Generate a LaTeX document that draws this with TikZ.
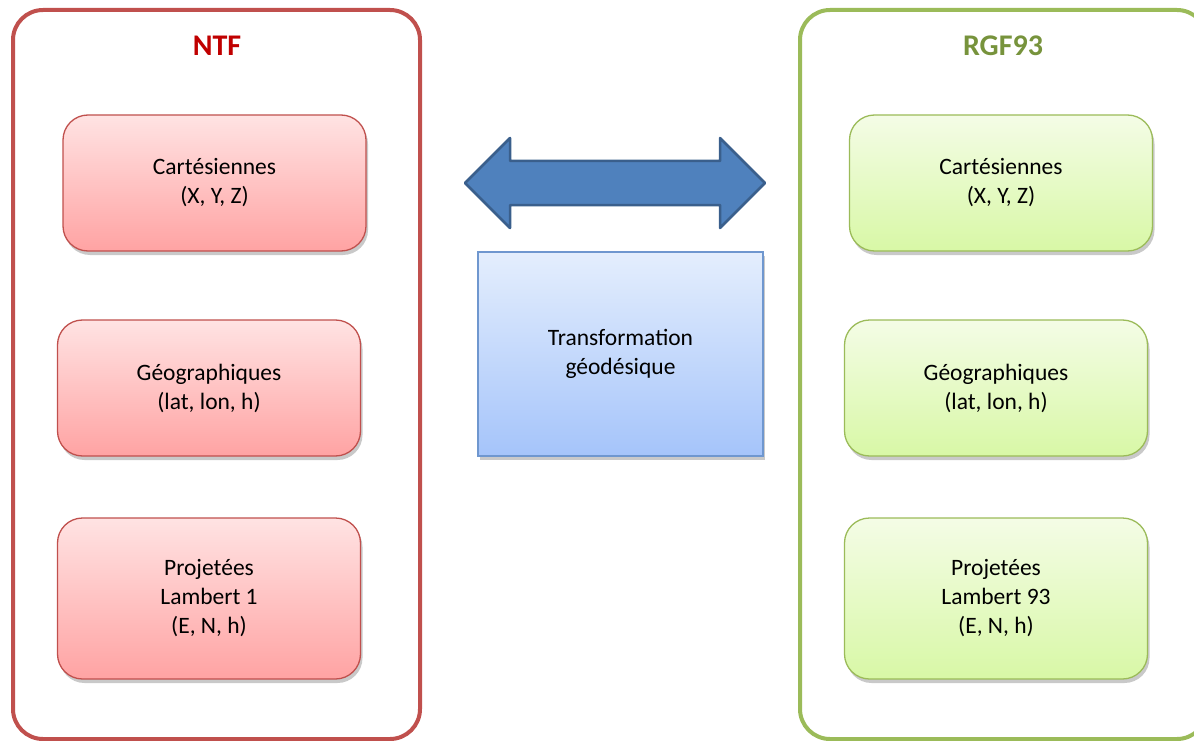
\documentclass[tikz,border=0pt]{standalone}
\usepackage{fontspec}
\setmainfont{Carlito}
\usetikzlibrary{shadows}
\definecolor{ntfred}{HTML}{C0504D}
\definecolor{ntftitle}{HTML}{C00000}
\definecolor{rgfgreen}{HTML}{9BBB59}
\definecolor{rgftitle}{HTML}{77933C}
\definecolor{redtop}{HTML}{FFE3E3}
\definecolor{redbot}{HTML}{FFA3A3}
\definecolor{greentop}{HTML}{F4FCE6}
\definecolor{greenbot}{HTML}{D8F8A6}
\definecolor{bluetop}{HTML}{E4EEFD}
\definecolor{bluebot}{HTML}{A5C4FA}
\definecolor{blueborder}{HTML}{6F97CF}
\definecolor{arrowfill}{HTML}{4F81BD}
\definecolor{arrowdraw}{HTML}{3A5F8C}
\tikzset{
  container/.style={draw, line width=4pt, rounded corners=30pt, inner sep=0pt,
    minimum width=407pt, minimum height=729pt},
  shadowed/.style={drop shadow={shadow xshift=2pt, shadow yshift=-4pt, opacity=0.3, fill=black!70}},
  bodytext/.style={font=\fontsize{23.5}{29}\selectfont, align=center, inner sep=0pt,
    execute at begin node={\vspace*{-8pt}}},
  redbox/.style={draw=ntfred, line width=1.3pt, rounded corners=25pt, bodytext,
    top color=redtop, bottom color=redbot, shadowed, minimum width=303pt},
  greenbox/.style={draw=rgfgreen, line width=1.3pt, rounded corners=25pt, bodytext,
    top color=greentop, bottom color=greenbot, shadowed, minimum width=303pt},
  titletext/.style={font=\fontsize{30}{34}\selectfont\bfseries},
}
\begin{document}
\begin{tikzpicture}[x=1pt,y=-1pt]
\useasboundingbox (0,0) rectangle (1194,741);
\clip (0,0) rectangle (1194,741);
% containers
\node[container, draw=ntfred] (ntf) at (216.5,374.5) {};
\node[container, draw=rgfgreen] (rgf) at (1003.5,374.5) {};
\node[titletext, text=ntftitle] (ntft) at (217,46) {NTF};
\node[titletext, text=rgftitle] (rgft) at (1003,46) {RGF93};
% red boxes
\node[redbox, minimum height=136pt] (r1) at (214.5,183) {Cartésiennes\\(X, Y, Z)};
\node[redbox, minimum height=136pt] (r2) at (209,388) {Géographiques\\(lat, lon, h)};
\node[redbox, minimum height=161pt] (r3) at (209,598.5) {Projetées\\Lambert 1\\(E, N, h)};
% green boxes
\node[greenbox, minimum height=136pt] (g1) at (1001,183) {Cartésiennes\\(X, Y, Z)};
\node[greenbox, minimum height=136pt] (g2) at (996,388) {Géographiques\\(lat, lon, h)};
\node[greenbox, minimum height=161pt] (g3) at (996,598.5) {Projetées\\Lambert 93\\(E, N, h)};
% transformation box
\node[draw=blueborder, line width=1.2pt, top color=bluetop, bottom color=bluebot,
  shadowed, minimum width=285pt, minimum height=204pt, bodytext] (tr) at (620.5,354) {Transformation\\géodésique};
% double arrow
\coordinate (al) at (465,183);
\coordinate (ar) at (765,183);
\draw[fill=arrowfill, draw=arrowdraw, line width=2.5pt, line join=round]
  (al) -- (510,138) -- (510,161) -- (720,161) -- (720,138) -- (ar)
  -- (720,228) -- (720,205) -- (510,205) -- (510,228) -- cycle;
\end{tikzpicture}
\end{document}
